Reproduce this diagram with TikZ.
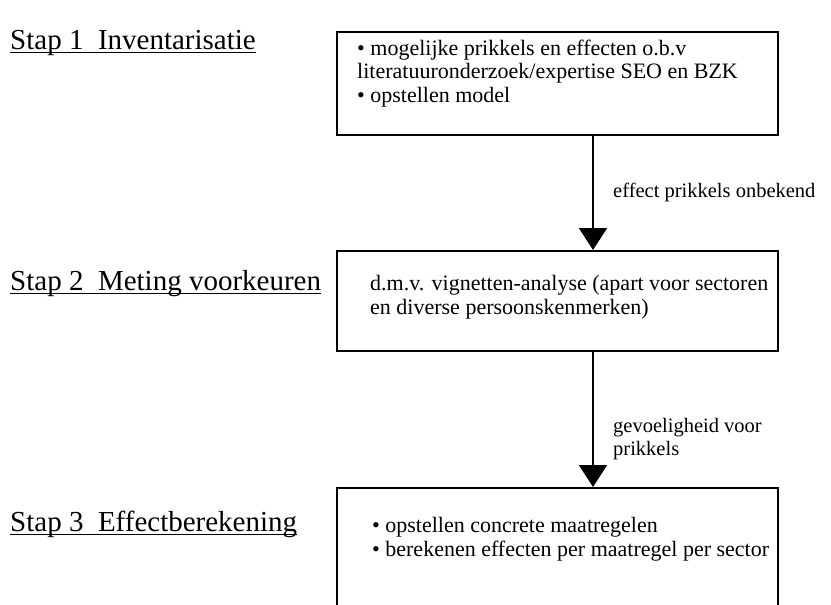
\documentclass[tikz,border=0pt]{standalone}
\usepackage{fontspec}
\setmainfont{Liberation Serif}
\usetikzlibrary{arrows.meta}
\begin{document}
\begin{tikzpicture}[x=1pt,y=-1pt,
  box/.style={draw,line width=1.8pt,minimum width=441pt,inner sep=0pt,anchor=north west},
  boxtext/.style={anchor=base west,align=left,inner sep=0pt,font={\fontsize{22}{23.5}\selectfont}},
  steplabel/.style={anchor=base west,inner sep=0pt,font={\fontsize{29}{32}\selectfont}},
  uline/.style={line width=1.6pt},
  conn/.style={line width=1.8pt,-{Triangle[width=28pt,length=22pt]}},
  connlabel/.style={anchor=base west,align=left,inner sep=0pt,font={\fontsize{20.5}{23}\selectfont}}]
\useasboundingbox (0,0) rectangle (831,605);
\clip (0,0) rectangle (831,605);
\fill[white] (0,0) rectangle (831,605);

% boxes
\node[box,minimum height=103pt] (b1) at (336,31) {};
\node[box,minimum height=100pt] (b2) at (336,250) {};
\node[box,minimum height=170pt] (b3) at (336,487) {};

% box texts (base anchor = last line)
\node[boxtext] (t1) at (357,102) {• mogelijke prikkels en effecten o.b.v\\literatuuronderzoek/expertise SEO en BZK\\• opstellen model};
\node[boxtext] (t2) at (370,314) {d.m.v. vignetten-analyse (apart voor sectoren\\en diverse persoonskenmerken)};
\node[boxtext] (t3) at (372,556) {• opstellen concrete maatregelen\\• berekenen effecten per maatregel per sector};

% step labels
\node[steplabel] (s1) at (10,49) {Stap 1\ \ Inventarisatie};
\node[steplabel] (s2) at (10,290) {Stap 2\ \ Meting voorkeuren};
\node[steplabel] (s3) at (10,531) {Stap 3\ \ Effectberekening};
\foreach \s in {s1,s2,s3}
  \draw[uline] ([yshift=-3.5pt]\s.base west) -- ([yshift=-3.5pt]\s.base east);

% connectors
\coordinate (ax) at (593,0);
\draw[conn] (b1.south -| ax) -- (b2.north -| ax);
\draw[conn] (b2.south -| ax) -- (b3.north -| ax);

% connector labels
\node[connlabel] (l1) at (613,197) {effect prikkels onbekend};
\node[connlabel] (l2) at (613,455) {gevoeligheid voor\\prikkels};
\end{tikzpicture}
\end{document}
